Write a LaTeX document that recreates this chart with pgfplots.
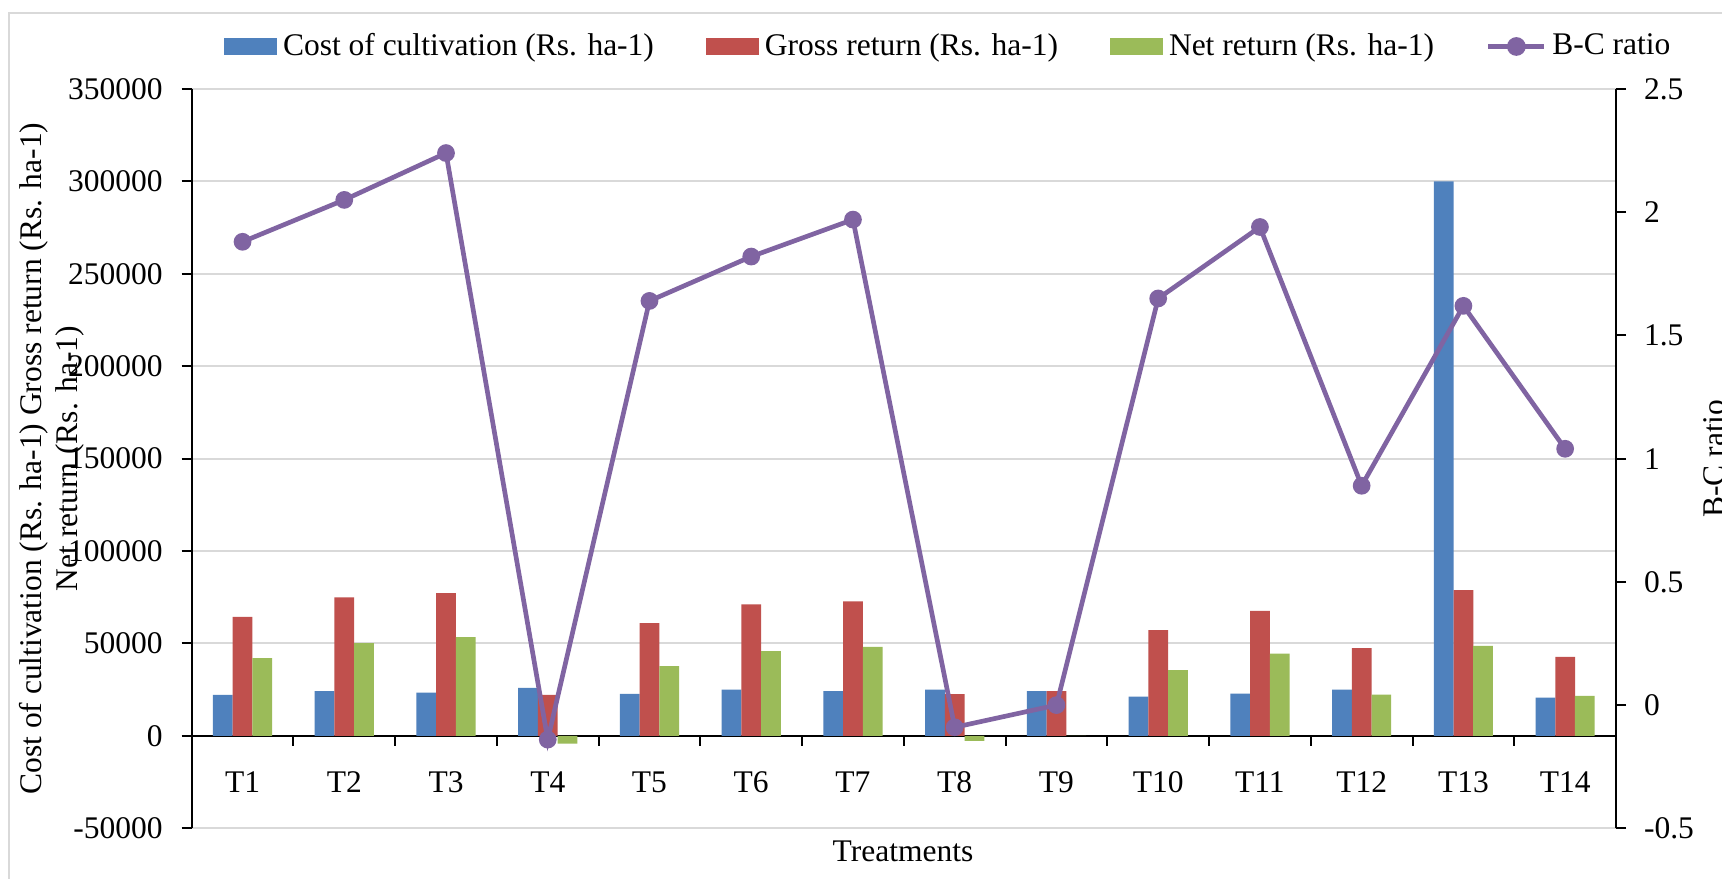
\documentclass[border=0pt]{standalone}
\usepackage{fontspec}
\setmainfont{Liberation Serif}
\usepackage{pgfplots}
\pgfplotsset{compat=1.18}
\definecolor{cblue}{HTML}{4F81BD}
\definecolor{cred}{HTML}{C0504D}
\definecolor{cgreen}{HTML}{9BBB59}
\definecolor{cpurple}{HTML}{8064A2}
\definecolor{cgrid}{HTML}{D9D9D9}
\begin{document}
\fontsize{9.45pt}{10.8pt}\selectfont
\begin{tikzpicture}[font=\fontsize{9.45pt}{10.8pt}\selectfont]
\path[use as bounding box] (-57.5pt,-15.2pt) rectangle (459.1pt,248.5pt);
\clip (-57.5pt,-15.2pt) rectangle (459.1pt,248.5pt);
\fill[white] (-57.5pt,-15.2pt) rectangle (459.1pt,248.5pt);
\draw[cgrid, line width=0.45pt] (-54.8pt,244.6pt) rectangle (480pt,-30pt);
\begin{axis}[
  at={(0pt,0pt)}, anchor=south west,
  scale only axis, width=427.3pt, height=221.8pt,
  xmin=0.5, xmax=14.5, ymin=-50000, ymax=350000,
  axis x line=middle, axis y line=left,
  axis line style={-, black, line width=0.6pt},
  ytick={-50000,0,50000,100000,150000,200000,250000,300000,350000},
  yticklabels={-50000,0,50000,100000,150000,200000,250000,300000,350000},
  scaled y ticks=false,
  yticklabel style={anchor=east, inner sep=0pt, xshift=-5.5pt},
  ytick align=outside, xtick align=outside,
  major tick length=3pt,
  tick style={black, line width=0.6pt},
  ymajorgrids, grid style={cgrid, line width=0.6pt},
  xtick={0.5,1.5,...,14.5}, xticklabels={},
  extra x ticks={1,2,...,14},
  extra x tick labels={T1,T2,T3,T4,T5,T6,T7,T8,T9,T10,T11,T12,T13,T14},
  extra x tick style={major tick length=0pt, grid=none},
  xticklabel style={anchor=base, inner sep=0pt, yshift=-17pt},
  xlabel={Treatments},
  xlabel style={at={(axis description cs:0.4994,-0.0451)}, anchor=base, inner sep=0pt},
  ylabel={Cost of cultivation (Rs. ha-1) Gross return (Rs. ha-1)\\Net return (Rs. ha-1)},
  ylabel style={at={(axis description cs:-0.098,0.5)}, anchor=center, align=center, inner sep=0pt},
]
\addplot[ybar, bar width=0.194, bar shift=-0.1937, fill=cblue, draw=none] coordinates {
(1,22200) (2,24190) (3,23470) (4,25990) (5,22740) (6,25090) (7,24190)
(8,25090) (9,24190) (10,21300) (11,22920) (12,25090) (13,300000) (14,20760)};
\addplot[ybar, bar width=0.194, bar shift=0, fill=cred, draw=none] coordinates {
(1,64440) (2,74910) (3,77260) (4,22200) (5,61010) (6,71120) (7,72740)
(8,22560) (9,24190) (10,57220) (11,67690) (12,47470) (13,78880) (14,42780)};
\addplot[ybar, bar width=0.194, bar shift=0.1937, fill=cgreen, draw=none] coordinates {
(1,42060) (2,50180) (3,53430) (4,-4150) (5,37730) (6,45850) (7,48200)
(8,-2710) (9,0) (10,35560) (11,44580) (12,22380) (13,48740) (14,21660)};
\end{axis}
\begin{axis}[
  at={(0pt,0pt)}, anchor=south west,
  scale only axis, width=427.3pt, height=221.8pt,
  xmin=0.5, xmax=14.5, ymin=-0.5, ymax=2.5,
  axis x line=none, axis y line*=right,
  axis line style={-, black, line width=0.6pt},
  ytick={-0.5,0,0.5,1,1.5,2,2.5},
  yticklabels={-0.5,0,0.5,1,1.5,2,2.5},
  ytick align=outside, major tick length=3pt,
  tick style={black, line width=0.6pt},
  yticklabel style={anchor=west, inner sep=0pt, xshift=5.2pt},
  ylabel={B-C ratio},
  ylabel style={at={(axis description cs:1.0611,0.5)}, anchor=north, inner sep=0pt},
  legend columns=4,
  legend style={at={(axis description cs:0,1)}, anchor=west, xshift=9.7pt, yshift=12.75pt,
    draw=none, fill=none, inner sep=0pt, outer sep=0pt,
    nodes={inner sep=0pt},
    /tikz/every odd column/.append style={column sep=1.7pt},
    /tikz/every even column/.append style={column sep=15.6pt}},
]
\addlegendimage{legend image code/.code={\fill[cblue] (0pt,-2.25pt) rectangle (15.6pt,2.25pt);}}
\addlegendentry{Cost of cultivation (Rs. ha-1)}
\addlegendimage{legend image code/.code={\fill[cred] (0pt,-2.25pt) rectangle (15.6pt,2.25pt);}}
\addlegendentry{Gross return (Rs. ha-1)}
\addlegendimage{legend image code/.code={\fill[cgreen] (0pt,-2.25pt) rectangle (15.6pt,2.25pt);}}
\addlegendentry{Net return (Rs. ha-1)}
\addplot[cpurple, line width=1.4pt, mark=*, mark size=1.95pt,
  mark options={fill=cpurple, draw=cpurple},
  legend image code/.code={\draw[cpurple, line width=1.4pt] (0pt,0pt) -- (16.8pt,0pt); \fill[cpurple] (8.4pt,0pt) circle (2.1pt);}]
coordinates {
(1,1.88) (2,2.05) (3,2.24) (4,-0.14) (5,1.64) (6,1.82) (7,1.97)
(8,-0.09) (9,0.0) (10,1.65) (11,1.94) (12,0.89) (13,1.62) (14,1.04)};
\addlegendentry{B-C ratio}
\end{axis}
\end{tikzpicture}
\end{document}
